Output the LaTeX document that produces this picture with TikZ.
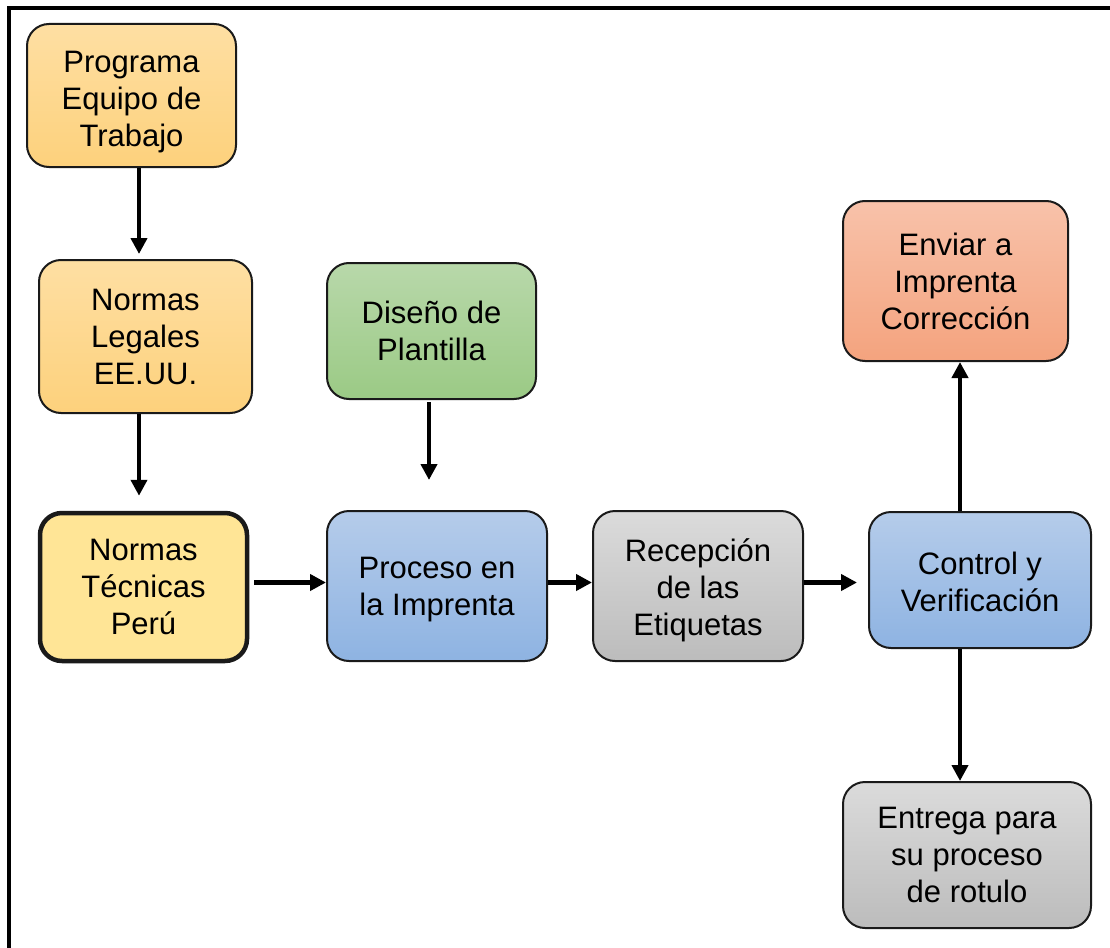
\documentclass[tikz,border=0pt]{standalone}
\usepackage{fontspec}
\setmainfont{Liberation Sans}
\usetikzlibrary{arrows.meta}

\definecolor{goldtop}{HTML}{FEDFA3}
\definecolor{goldbot}{HTML}{FDD17C}
\definecolor{yelfill}{HTML}{FFE596}
\definecolor{greentop}{HTML}{B8D8AA}
\definecolor{greenbot}{HTML}{9BCA85}
\definecolor{bluetop}{HTML}{B5CCEA}
\definecolor{bluebot}{HTML}{8EB3E2}
\definecolor{graytop}{HTML}{DBDBDB}
\definecolor{graybot}{HTML}{BCBCBC}
\definecolor{salmontop}{HTML}{F8C2AA}
\definecolor{salmonbot}{HTML}{F4A37E}
\definecolor{edge}{HTML}{1A1A1A}

% extra room above a first line, pushing the text block down
\newcommand\padtop[2]{\raisebox{0pt}[\dimexpr\height+#1\relax]{#2}}

\tikzset{
  box/.style={draw=edge, line width=2pt, rounded corners=22pt,
    align=center, inner sep=0pt,
    font=\fontsize{31}{37}\selectfont},
  gold/.style={box, top color=goldtop, bottom color=goldbot},
  yel/.style={box, fill=yelfill, line width=4.5pt},
  green/.style={box, top color=greentop, bottom color=greenbot},
  blue/.style={box, top color=bluetop, bottom color=bluebot},
  grey/.style={box, top color=graytop, bottom color=graybot},
  salmon/.style={box, top color=salmontop, bottom color=salmonbot},
  arr/.style={line width=4.2pt, -{Triangle[length=16pt,width=16pt]}},
}

\begin{document}
\begin{tikzpicture}[x=1pt, y=-1pt]
\useasboundingbox (0,0) rectangle (1110,947);
\clip (0,0) rectangle (1110,947);

% outer frame
\draw[line width=3.5pt] (9,970) -- (9,8) -- (1130,8);

% reference lines for the connectors
\coordinate (row) at (0,582.5);
\coordinate (colA) at (139,0);
\coordinate (colB) at (429,0);
\coordinate (colC) at (960,0);

% boxes
\node[gold, minimum width=209pt, minimum height=143pt] (prog) at (131.5,95.5)
  {\padtop{14pt}{Programa}\\Equipo de\\Trabajo};
\node[gold, minimum width=213pt, minimum height=153pt] (nl) at (145.5,336.5)
  {Normas\\Legales\\EE.UU.};
\node[yel, minimum width=207pt, minimum height=148pt] (nt) at (143.5,587)
  {Normas\\Técnicas\\Perú};
\node[green, minimum width=209pt, minimum height=136pt] (dis) at (431.5,331)
  {Diseño de\\Plantilla};
\node[blue, minimum width=220pt, minimum height=150pt] (proc) at (437,586)
  {\padtop{8pt}{Proceso en}\\la Imprenta};
\node[grey, minimum width=210pt, minimum height=150pt] (rec) at (698,586)
  {\padtop{8pt}{Recepción}\\de las\\Etiquetas};
\node[blue, minimum width=222pt, minimum height=136pt] (ctrl) at (980,580)
  {\padtop{4pt}{Control y}\\Verificación};
\node[salmon, minimum width=225pt, minimum height=160pt] (env) at (955.5,281)
  {Enviar a\\Imprenta\\Corrección};
\node[grey, minimum width=248pt, minimum height=146pt] (ent) at (967,855)
  {Entrega para\\su proceso\\de rotulo};

% connectors
\draw[arr, shorten >=5pt] (prog.south -| colA) -- (nl.north -| colA);
\draw[arr, shorten >=15pt] (nl.south -| colA) -- (nt.north -| colA);
\draw[arr, shorten <=2pt, shorten >=30pt] (dis.south -| colB) -- (proc.north -| colB);
\draw[arr, shorten <=5pt] (nt.east |- row) -- (proc.west |- row);
\draw[arr] (proc.east |- row) -- (rec.west |- row);
\draw[arr, shorten >=11pt] (rec.east |- row) -- (ctrl.west |- row);
\draw[arr] (ctrl.north -| colC) -- (env.south -| colC);
\draw[arr] (ctrl.south -| colC) -- (ent.north -| colC);
\end{tikzpicture}
\end{document}
